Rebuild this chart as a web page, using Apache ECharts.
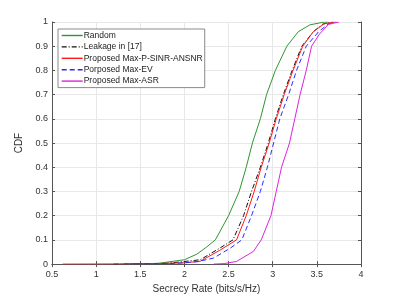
<!DOCTYPE html>
<html>
<head>
<meta charset="utf-8">
<script src="https://cdn.jsdelivr.net/npm/echarts@6/dist/echarts.min.js"></script>
<style>html,body{margin:0;padding:0;background:#fff;}#c{width:399px;height:299px;}</style>
</head>
<body>
<div id="c"></div>
<script>
var xTicks = [0.5, 1, 1.5, 2, 2.5, 3, 3.5, 4];
var yTicks = [0, 0.1, 0.2, 0.3, 0.4, 0.5, 0.6, 0.7, 0.8, 0.9, 1];
var seriesNames = ["Random", "Leakage in [17]", "Proposed Max-P-SINR-ANSNR", "Porposed Max-EV", "Proposed Max-ASR"];

var randomX = [1.3, 1.7, 2.0, 2.14, 2.25, 2.35, 2.50, 2.62, 2.70, 2.77, 2.86, 2.93, 3.03, 3.16, 3.29, 3.42, 3.57, 3.63];
var randomY = [0, 0.003, 0.018, 0.041, 0.07, 0.1, 0.2, 0.3, 0.4, 0.5, 0.6, 0.7, 0.8, 0.9, 0.96, 0.988, 0.999, 1];

var leakX = [1.2, 1.8, 2.18, 2.40, 2.55, 2.67, 2.76, 2.86, 2.95, 3.03, 3.12, 3.22, 3.33, 3.46, 3.57, 3.68];
var leakY = [0, 0.003, 0.018, 0.066, 0.1, 0.2, 0.3, 0.4, 0.5, 0.6, 0.7, 0.8, 0.9, 0.96, 0.992, 1];

var sinrX = [0.62, 1.5, 2.0, 2.18, 2.40, 2.59, 2.70, 2.79, 2.87, 2.96, 3.04, 3.13, 3.23, 3.34, 3.46, 3.58, 3.70];
var sinrY = [0, 0.001, 0.005, 0.012, 0.057, 0.1, 0.2, 0.3, 0.4, 0.5, 0.6, 0.7, 0.8, 0.9, 0.96, 0.992, 1];

var evX = [1.38, 1.9, 2.15, 2.33, 2.52, 2.65, 2.76, 2.86, 2.94, 3.01, 3.08, 3.18, 3.27, 3.38, 3.52, 3.63, 3.72];
var evY = [0, 0.003, 0.01, 0.025, 0.066, 0.1, 0.2, 0.3, 0.4, 0.5, 0.6, 0.7, 0.8, 0.9, 0.96, 0.992, 1];

var asrX = [2.33, 2.45, 2.59, 2.78, 2.87, 2.98, 3.04, 3.10, 3.19, 3.25, 3.31, 3.38, 3.44, 3.53, 3.63, 3.75];
var asrY = [0, 0.002, 0.011, 0.052, 0.1, 0.2, 0.3, 0.4, 0.5, 0.6, 0.7, 0.8, 0.9, 0.95, 0.99, 1];

function pairs(xs, ys) { return xs.map(function (x, i) { return [x, ys[i]]; }); }

var axisCol = '#555';
var font = 'Liberation Sans, Arial, sans-serif';
var colors = ['#2f962f', '#111111', '#ff1a1a', '#2b2bff', '#dd22dd'];
var dashes = ['solid', [5, 2, 1, 2], 'solid', [5, 3], 'solid'];

function mkSeries(i, xs, ys) {
  return {
    name: seriesNames[i], type: 'line', data: pairs(xs, ys), symbol: 'none',
    smooth: false,
    lineStyle: { color: colors[i], width: 1, type: dashes[i] },
    itemStyle: { color: colors[i] },
    xAxisIndex: 0, yAxisIndex: 0
  };
}

var chart = echarts.init(document.getElementById('c'), null, { renderer: 'canvas' });
chart.setOption({
  animation: false,
  backgroundColor: '#fff',
  grid: { left: 52, right: 38, top: 22, bottom: 33 },
  legend: {
    orient: 'vertical', left: 58, top: 29,
    data: seriesNames.map(function (n, i) {
      return { name: n, lineStyle: { color: colors[i], width: 1.4, type: dashes[i], opacity: 1 } };
    }),
    itemWidth: 21, itemHeight: 8, itemGap: 2.4,
    itemStyle: { opacity: 0 },
    backgroundColor: '#fff', borderColor: '#8a8a8a', borderWidth: 1,
    padding: [2, 2, 2, 3],
    textStyle: { fontFamily: font, fontSize: 8.5, color: '#222', padding: [0, 0, 0, -4] }
  },
  xAxis: [{
    type: 'value', min: xTicks[0], max: xTicks[xTicks.length - 1], interval: 0.5,
    name: 'Secrecy Rate (bits/s/Hz)', nameLocation: 'middle', nameGap: 18,
    nameTextStyle: { fontFamily: font, fontSize: 10, color: '#333' },
    axisLine: { show: true, lineStyle: { color: axisCol, width: 1 } },
    axisTick: { show: true, inside: true, length: 3, lineStyle: { color: axisCol } },
    axisLabel: { fontFamily: font, fontSize: 9, color: '#333', margin: 6,
      formatter: function (v) { return String(v); } },
    splitLine: { show: true, lineStyle: { color: '#e8e8e8', width: 1 } }
  }, {
    type: 'value', position: 'top', min: xTicks[0], max: xTicks[xTicks.length - 1], interval: 0.5,
    axisLine: { show: true, lineStyle: { color: axisCol, width: 1 } },
    axisTick: { show: true, inside: true, length: 3, lineStyle: { color: axisCol } },
    axisLabel: { show: false }, splitLine: { show: false }
  }],
  yAxis: [{
    type: 'value', min: yTicks[0], max: yTicks[yTicks.length - 1], interval: 0.1,
    name: 'CDF', nameLocation: 'middle', nameGap: 22,
    nameTextStyle: { fontFamily: font, fontSize: 10, color: '#333' },
    axisLine: { show: true, lineStyle: { color: axisCol, width: 1 } },
    axisTick: { show: true, inside: true, length: 3, lineStyle: { color: axisCol } },
    axisLabel: { fontFamily: font, fontSize: 9, color: '#333', margin: 4,
      formatter: function (v) { return String(Math.round(v * 10) / 10); } },
    splitLine: { show: true, lineStyle: { color: '#e8e8e8', width: 1 } }
  }, {
    type: 'value', position: 'right', min: 0, max: 1, interval: 0.1,
    axisLine: { show: true, lineStyle: { color: axisCol, width: 1 } },
    axisTick: { show: true, inside: true, length: 3, lineStyle: { color: axisCol } },
    axisLabel: { show: false }, splitLine: { show: false }
  }],
  series: [
    mkSeries(0, randomX, randomY),
    mkSeries(1, leakX, leakY),
    mkSeries(2, sinrX, sinrY),
    mkSeries(3, evX, evY),
    mkSeries(4, asrX, asrY)
  ]
});
</script>
</body>
</html>
